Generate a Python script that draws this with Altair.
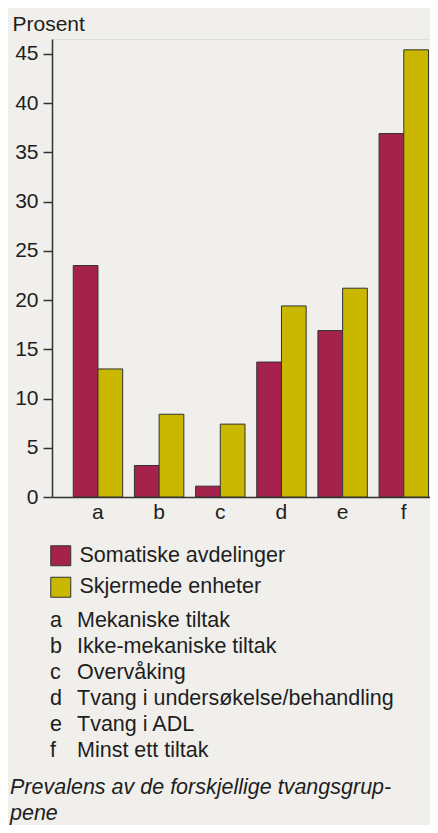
import altair as alt
import pandas as pd

categories = ["a", "b", "c", "d", "e", "f"]
series = ["Somatiske avdelinger", "Skjermede enheter"]
somatiske = [23.5, 3.2, 1.1, 13.7, 16.9, 36.9]
skjermede = [13.0, 8.4, 7.4, 19.4, 21.2, 45.4]
colors = ["#a5224c", "#c9b700"]
y_ticks = [0, 5, 10, 15, 20, 25, 30, 35, 40, 45]
key_letters = ["a", "b", "c", "d", "e", "f"]
key_texts = [
    "Mekaniske tiltak",
    "Ikke-mekaniske tiltak",
    "Overvåking",
    "Tvang i undersøkelse/behandling",
    "Tvang i ADL",
    "Minst ett tiltak",
]
caption_lines = ["Prevalens av de forskjellige tvangsgrup-", "pene"]

FONT = "Liberation Sans"
TXT = "#1e1e1e"
FS = 21.5

rows = []
for i, c in enumerate(categories):
    rows.append({"kategori": c, "gruppe": series[0], "verdi": somatiske[i]})
    rows.append({"kategori": c, "gruppe": series[1], "verdi": skjermede[i]})
df = pd.DataFrame(rows)

key_df = pd.DataFrame({"row": list(range(len(key_letters))), "letter": key_letters, "text": key_texts})
cap_df = pd.DataFrame({"row": list(range(len(caption_lines))), "text": caption_lines})

bars = alt.Chart(df).mark_bar(stroke="#333333", strokeWidth=1).encode(
    x=alt.X(
        "kategori:N",
        sort=categories,
        scale=alt.Scale(paddingInner=0.192, paddingOuter=0.186, align=0.934),
        axis=alt.Axis(
            title=None, labelAngle=0, ticks=False, tickSize=0, labelPadding=4,
            labelFontSize=21, labelColor=TXT, labelFont=FONT,
            domainColor="#333333", domainWidth=1.5, grid=False,
        ),
    ),
    xOffset=alt.XOffset("gruppe:N", sort=series, scale=alt.Scale(paddingInner=0, paddingOuter=0)),
    y=alt.Y(
        "verdi:Q",
        scale=alt.Scale(domain=[0, 46.5], nice=False, zero=True),
        axis=alt.Axis(
            values=y_ticks, title="Prosent", titleAngle=0, titleAlign="left",
            titleBaseline="alphabetic", titleX=-40, titleY=-9,
            titleFontSize=21, titleFontWeight="normal", titleColor=TXT, titleFont=FONT,
            labelFontSize=21, labelColor=TXT, labelFont=FONT, labelPadding=5,
            tickSize=9, tickColor="#333333", tickWidth=1.5,
            domainColor="#333333", domainWidth=1.5, grid=False,
        ),
    ),
    color=alt.Color(
        "gruppe:N",
        sort=series,
        scale=alt.Scale(domain=series, range=colors),
        legend=alt.Legend(
            title=None, orient="none", legendX=-2, legendY=506, padding=0,
            symbolType="square", symbolSize=400, symbolStrokeColor="#333333",
            symbolStrokeWidth=1, symbolOpacity=1, labelFontSize=FS, labelFont=FONT,
            labelColor=TXT, labelOffset=8, rowPadding=6.5, labelLimit=400,
        ),
    ),
)

letters = alt.Chart(key_df).mark_text(
    align="left", baseline="alphabetic", fontSize=FS, font=FONT, color=TXT
).encode(
    x=alt.value(-2),
    y=alt.Y("row:Q", scale=alt.Scale(domain=[0, 5], range=[588.3, 718.3]), axis=None),
    text="letter:N",
)

descs = alt.Chart(key_df).mark_text(
    align="left", baseline="alphabetic", fontSize=FS, font=FONT, color=TXT
).encode(
    x=alt.value(25),
    y=alt.Y("row:Q", scale=alt.Scale(domain=[0, 5], range=[588.3, 718.3]), axis=None),
    text="text:N",
)

caption = alt.Chart(cap_df).mark_text(
    align="left", baseline="alphabetic", fontSize=FS, font=FONT, fontStyle="italic", color=TXT
).encode(
    x=alt.value(-42),
    y=alt.Y("row:Q", scale=alt.Scale(domain=[0, 1], range=[755, 781]), axis=None),
    text="text:N",
)

chart = alt.layer(bars, letters, descs, caption).resolve_scale(y="independent").properties(
    width=378,
    height=458,
    padding={"left": 44, "top": 31, "right": 0, "bottom": 328},
    autosize=alt.AutoSizeParams(type="none"),
    background="#f0efeb",
).configure_view(stroke="transparent", strokeWidth=0).configure_axis(grid=False).configure(font=FONT)

chart.save("out.html", embed_options={"renderer": "svg", "actions": False})
